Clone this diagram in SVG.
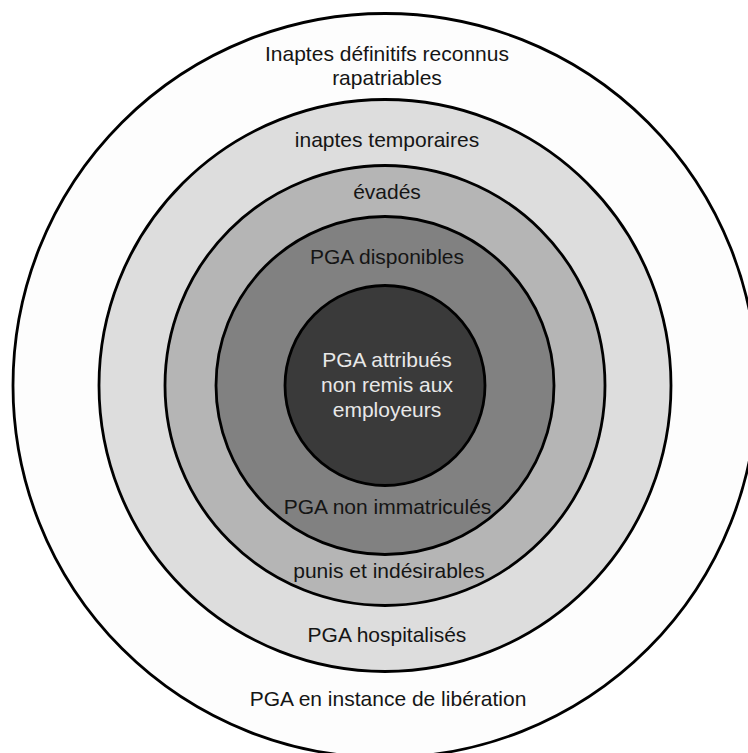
<svg xmlns="http://www.w3.org/2000/svg" width="748" height="753" viewBox="0 0 748 753">
<style>
.ring{stroke:#000;stroke-width:2.8}
text{font-family:"Liberation Sans",Arial,sans-serif;font-size:21px;text-anchor:middle;fill:#151515}
.light{fill:#e8e8e8}
</style>
<rect x="0" y="0" width="748" height="753" fill="#ffffff"/>
<g id="ring-liberation">
<circle class="ring" cx="385" cy="385.5" r="372" fill="#fdfdfd"/>
<text x="387" y="61">Inaptes définitifs reconnus</text>
<text x="387" y="85">rapatriables</text>
<text x="388" y="705.5">PGA en instance de libération</text>
</g>
<g id="ring-hospitalises">
<circle class="ring" cx="385" cy="385.5" r="286" fill="#dddddd"/>
<text x="387" y="146.5">inaptes temporaires</text>
<text x="387" y="641.5">PGA hospitalisés</text>
</g>
<g id="ring-punis">
<circle class="ring" cx="385" cy="385.5" r="220" fill="#b5b5b5"/>
<text x="387" y="198.5">évadés</text>
<text x="389" y="577.5">punis et indésirables</text>
</g>
<g id="ring-disponibles">
<circle class="ring" cx="385" cy="385.5" r="169" fill="#818181"/>
<text x="387" y="263.5">PGA disponibles</text>
<text x="387.5" y="513.5">PGA non immatriculés</text>
</g>
<g id="core">
<circle class="ring" cx="385" cy="385.5" r="100" fill="#3a3a3a"/>
<text class="light" x="387" y="366.5">PGA attribués</text>
<text class="light" x="387" y="391.5">non remis aux</text>
<text class="light" x="387" y="416.5">employeurs</text>
</g>
<g id="connectors"></g>
</svg>
